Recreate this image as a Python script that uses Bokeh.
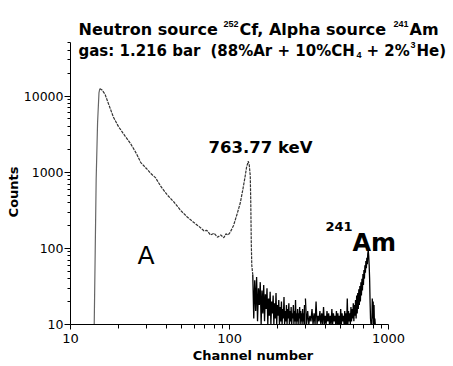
from bokeh.plotting import figure
from bokeh.models import Label, FixedTicker, Range1d, NumeralTickFormatter
from bokeh.embed import file_html
from bokeh.resources import INLINE

# ---------------- data ----------------
x_ticks = [10, 100, 1000]
x_minor = [20, 30, 40, 50, 60, 70, 80, 90, 200, 300, 400, 500, 600, 700, 800, 900]
y_ticks = [10, 100, 1000, 10000]
y_minor = [20, 30, 40, 50, 60, 70, 80, 90,
           200, 300, 400, 500, 600, 700, 800, 900,
           2000, 3000, 4000, 5000, 6000, 7000, 8000, 9000,
           20000, 30000, 40000, 50000]

# rising threshold edge
edge_ch = [14.1, 14.3, 14.5, 14.8, 15.1, 15.3]
edge_counts = [10, 90, 800, 4500, 11000, 12500]

# continuum "A" and the 763.77 keV peak
decay_ch = [15.3, 15.8, 16.5, 17.5, 18.6, 20, 22, 23.8, 26, 27.6, 30, 32, 34.2,
            37, 40.7, 45, 49.2, 54, 59.4, 63, 66, 69, 72, 76, 80, 84, 88, 92,
            95, 98, 101, 106, 112, 117, 121, 125, 128, 130, 131, 133, 135,
            136, 137, 138, 140]
decay_counts = [12500, 12000, 10500, 7500, 5300, 4000, 3000, 2400, 1750, 1350,
                1120, 960, 850, 650, 500, 400, 316, 260, 220, 200, 185, 170,
                172, 150, 158, 140, 150, 138, 155, 150, 163, 200, 290, 400, 580,
                850, 1170, 1300, 1400, 1250, 900, 400, 120, 60, 45]

# noisy region, channels 140, 142, ... 298
noise1_counts = [45, 12, 38, 15, 42, 11, 30, 18, 36, 10,
                 28, 14, 33, 11, 25, 16, 30, 10, 22, 13,
                 27, 10, 20, 14, 24, 10, 19, 12, 26, 10,
                 18, 13, 21, 10, 17, 11, 20, 10, 16, 12,
                 23, 10, 15, 11, 18, 10, 16, 12, 19, 10,
                 15, 11, 17, 10, 14, 12, 18, 10, 15, 11,
                 21, 10, 14, 11, 16, 10, 14, 12, 17, 10,
                 15, 11, 14, 10, 16, 11, 14, 10, 18, 10]
noise1_ch = list(range(140, 140 + 2 * len(noise1_counts), 2))

# noisy region and the 241Am alpha peak, channels 300, 305, ... 825
noise2_counts = [22, 10, 15, 10, 13, 11, 16, 10,
                 14, 10, 20, 10, 13, 11, 15, 10, 14, 10,
                 17, 10, 13, 10, 15, 11, 14, 10, 13, 10,
                 16, 10, 14, 11, 13, 10, 15, 10, 14, 10,
                 13, 10, 16, 10, 14, 11, 13, 10, 15, 10,
                 14, 10, 22, 10, 15, 11, 14, 10, 17, 11,
                 16, 12, 19, 11, 18, 13, 21, 12, 24, 14,
                 26, 16, 29, 18, 32, 20, 36, 24, 40, 28,
                 46, 33, 52, 40, 60, 48, 68, 55, 75, 62,
                 85, 94, 80, 60, 40, 20, 12, 10, 10, 10,
                 22, 12, 20, 10, 18, 10, 12, 10]
noise2_ch = list(range(300, 300 + 5 * len(noise2_counts), 5))

# ---------------- figure ----------------
FL, FB = 70, 324  # frame left / bottom in page pixels
NBSP = "\u00a0"

p = figure(width=453, height=366, x_axis_type="log", y_axis_type="log",
           x_range=Range1d(10, 2560), y_range=Range1d(10, 1.8e5),
           output_backend="svg", toolbar_location=None,
           min_border_left=FL, min_border_right=0, min_border_top=0,
           min_border_bottom=366 - FB)
p.outline_line_color = None
p.xgrid.visible = False
p.ygrid.visible = False
p.background_fill_color = "white"
p.border_fill_color = "white"

for ax, ticks, minor, bounds in ((p.xaxis, x_ticks, x_minor, (10, 1000)),
                                 (p.yaxis, y_ticks, y_minor, (10, 50000))):
    ax.ticker = FixedTicker(ticks=ticks, minor_ticks=minor)
    ax.formatter = NumeralTickFormatter(format="0")
    ax.bounds = bounds
    ax.axis_line_color = "black"
    ax.major_tick_line_color = "black"
    ax.minor_tick_line_color = "black"
    ax.major_tick_in = 0
    ax.minor_tick_in = 0
    ax.major_label_text_font = "DejaVu Sans"
    ax.major_label_text_color = "black"
    ax.axis_label_text_font = "DejaVu Sans"
    ax.axis_label_text_font_style = "bold"
    ax.axis_label_text_color = "black"

p.xaxis.major_tick_out = 5
p.xaxis.minor_tick_out = 4
p.xaxis.major_label_standoff = 4
p.xaxis.major_label_text_font_size = "13px"
p.xaxis.axis_label = "Channel number" + NBSP * 4
p.xaxis.axis_label_text_font_size = "13px"
p.xaxis.axis_label_standoff = 2

p.yaxis.major_tick_out = 6
p.yaxis.minor_tick_out = 3
p.yaxis.major_label_standoff = 1
p.yaxis.major_label_text_font_size = "12.5px"
p.yaxis.axis_label = "Counts" + NBSP * 13
p.yaxis.axis_label_text_font_size = "13px"
p.yaxis.axis_label_standoff = 0

p.line(edge_ch, edge_counts, line_color="#666666", line_width=1.2)
p.line(decay_ch, decay_counts, line_color="#333333", line_width=1.2, line_dash="3 1")
p.line(noise1_ch, noise1_counts, line_color="black", line_width=1.3)
p.line(noise2_ch, noise2_counts, line_color="black", line_width=1.3)


def lab(text, px, py, size, bold=True, font="DejaVu Sans"):
    p.add_layout(Label(x=px - FL, y=FB - py, x_units="screen", y_units="screen",
                       text=text, text_font=font,
                       text_font_style="bold" if bold else "normal",
                       text_font_size=f"{size}px", text_color="black",
                       text_align="left", text_baseline="alphabetic"))


# title line 1
lab("Neutron source", 78, 29, 16)
lab("252", 223, 23, 9, font="Liberation Sans")
lab("Cf, Alpha source", 239, 29, 16)
lab("241", 393, 23, 9, font="Liberation Sans")
lab("Am", 409, 29, 16)
# title line 2
lab("gas: 1.216 bar", 78, 50, 15)
lab("(88%Ar + 10%CH", 210, 50, 15)
lab("4", 356, 54, 9, font="Liberation Sans")
lab("+ 2%", 366, 50, 15)
lab("3", 410, 44, 9, font="Liberation Sans")
lab("He)", 416, 50, 15)

# annotations in the plot
lab("763.77 keV", 208, 147, 16.5)
lab("A", 137, 255, 25, bold=False)
lab("241", 325, 226, 13)
lab("Am", 352, 242, 24)

open("out.html", "w").write(file_html(p, INLINE))
